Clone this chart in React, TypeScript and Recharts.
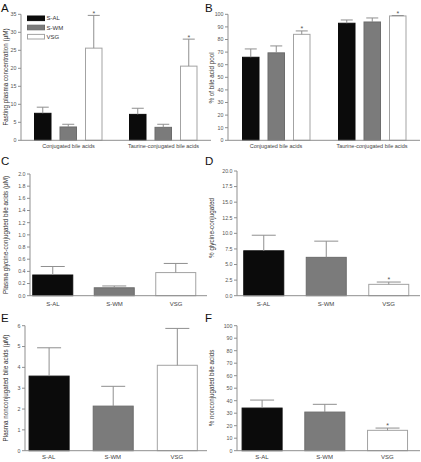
import * as React from "react";
import { BarChart, Bar, XAxis, YAxis, Legend } from "recharts";

const FONT = '"Liberation Sans", Arial, Helvetica, sans-serif';
const AXIS = "#8f8f8f";
const TICK_TXT = "#555555";
const ERR = "#8f8f8f";
const TITLE = "#333333";

const GROUPS = ["S-AL", "S-WM", "VSG"];
const GROUP_KEYS = ["sal", "swm", "vsg"];
const GROUP_FILL = ["#0b0b0b", "#7b7b7b", "#ffffff"];
const GROUP_STROKE = ["#0b0b0b", "#6c6c6c", "#a3a3a3"];

// Panel A: fasting plasma concentration (µM)
const A_CATS = ["Conjugated bile acids", "Taurine-conjugated bile acids"];
const A_SAL = [7.5, 7.2];
const A_SAL_SEM = [1.7, 1.7];
const A_SWM = [3.7, 3.6];
const A_SWM_SEM = [0.75, 0.85];
const A_VSG = [25.6, 20.6];
const A_VSG_SEM = [9.1, 7.5];
const A_VSG_SIG = [true, true];
const A_TICKS = [0, 5, 10, 15, 20, 25, 30, 35];

// Panel B: % of bile acid pool
const B_SAL = [65.9, 92.9];
const B_SAL_SEM = [6.6, 2.6];
const B_SWM = [69.4, 93.9];
const B_SWM_SEM = [5.5, 3.2];
const B_VSG = [84.1, 98.7];
const B_VSG_SEM = [2.7, 0.3];
const B_VSG_SIG = [true, true];
const B_TICKS = [0, 10, 20, 30, 40, 50, 60, 70, 80, 90, 100];

// Panel C: plasma glycine-conjugated bile acids (µM)
const C_MEAN = [0.34, 0.13, 0.38];
const C_SEM = [0.14, 0.03, 0.15];
const C_SIG = [false, false, false];
const C_TICKS = [0, 0.2, 0.4, 0.6, 0.8, 1.0, 1.2, 1.4, 1.6, 1.8, 2.0];

// Panel D: % glycine-conjugated
const D_MEAN = [7.2, 6.15, 1.82];
const D_SEM = [2.5, 2.6, 0.37];
const D_SIG = [false, false, true];
const D_TICKS = [0, 2.5, 5, 7.5, 10, 12.5, 15, 17.5, 20];

// Panel E: plasma nonconjugated bile acids (µM)
const E_MEAN = [3.58, 2.14, 4.1];
const E_SEM = [1.36, 0.95, 1.77];
const E_SIG = [false, false, false];
const E_TICKS = [0, 1, 2, 3, 4, 5, 6];

// Panel F: % nonconjugated bile acids
const F_MEAN = [34.1, 30.9, 16.3];
const F_SEM = [6.4, 6.2, 1.8];
const F_SIG = [false, false, true];
const F_TICKS = [0, 10, 20, 30, 40, 50, 60, 70, 80, 90, 100];

type Box = { x: number; y: number; w: number; h: number };

function marginsFor(div: Box, plot: Box, yW: number, xH: number) {
  return {
    left: plot.x - div.x - yW,
    top: plot.y - div.y,
    right: div.x + div.w - (plot.x + plot.w),
    bottom: div.y + div.h - (plot.y + plot.h) - xH,
  };
}

// bar + upper error bar + significance star, scaled off the bar's own height
function makeShape(
  meanKey: string,
  semKey: string,
  sigKey: string,
  cap: number,
  starDy: number,
  fill?: string,
  stroke?: string
) {
  return (props: any) => {
    const { x, y, width, height, payload } = props;
    const mean = payload[meanKey];
    const ppu = mean ? height / mean : 0;
    const top = y - payload[semKey] * ppu;
    const cx = x + width / 2;
    const f = fill ?? payload.fill;
    const s = stroke ?? payload.stroke;
    return (
      <g>
        <rect x={x + 0.5} y={y} width={width - 1} height={height} fill={f} stroke={s} strokeWidth={1} />
        <line x1={cx} x2={cx} y1={y} y2={top} stroke={ERR} strokeWidth={1} />
        <line x1={cx - cap / 2} x2={cx + cap / 2} y1={top} y2={top} stroke={ERR} strokeWidth={1} />
        {payload[sigKey] ? (
          <text x={cx} y={top + starDy} textAnchor="middle" fontSize={7} fill="#555">
            *
          </text>
        ) : null}
      </g>
    );
  };
}

const yAxisProps = (ticks: number[], w: number, fmt?: (v: number) => string) => ({
  domain: [ticks[0], ticks[ticks.length - 1]] as [number, number],
  ticks,
  interval: 0 as const,
  width: w,
  tickSize: 3,
  tickMargin: 1.5,
  axisLine: { stroke: AXIS },
  tickLine: { stroke: AXIS },
  tick: { fontSize: 5.3, fill: TICK_TXT },
  tickFormatter: fmt,
});

function renderLegend() {
  return (
    <svg width={40} height={26} style={{ display: "block" }}>
      {GROUPS.map((g, i) => (
        <g key={g}>
          <rect x={0.5} y={i * 9.2 + 1} width={17} height={4.6} fill={GROUP_FILL[i]} stroke={GROUP_STROKE[i]} />
          <text x={19.5} y={i * 9.2 + 5.4} fontSize={6} fill="#333">
            {g}
          </text>
        </g>
      ))}
    </svg>
  );
}

function GroupedPanel(p: {
  div: Box;
  plot: Box;
  yW: number;
  ticks: number[];
  series: { mean: number[]; sem: number[]; sig: boolean[] }[];
  legend?: boolean;
}) {
  const data = A_CATS.map((cat, i) => {
    const row: any = { cat };
    GROUP_KEYS.forEach((k, g) => {
      row[k] = p.series[g].mean[i];
      row[k + "Sem"] = p.series[g].sem[i];
      row[k + "Sig"] = p.series[g].sig[i];
    });
    return row;
  });
  const xH = 9;
  return (
    <div style={{ position: "absolute", left: p.div.x, top: p.div.y }}>
      <BarChart
        width={p.div.w}
        height={p.div.h}
        data={data}
        margin={marginsFor(p.div, p.plot, p.yW, xH)}
        barGap={8}
      >
        <XAxis
          dataKey="cat"
          height={xH}
          interval={0}
          tickLine={false}
          tickSize={3}
          tickMargin={1}
          axisLine={{ stroke: AXIS }}
          tick={{ fontSize: 5.5, fill: "#444" }}
        />
        <YAxis {...yAxisProps(p.ticks, p.yW)} />
        {p.legend && (
          <Legend
            layout="vertical"
            align="center"
            verticalAlign="middle"
            wrapperStyle={{ left: 27, top: 15, width: 40, height: 26 }}
            content={renderLegend}
          />
        )}
        {GROUP_KEYS.map((k, g) => (
          <Bar
            key={k}
            dataKey={k}
            name={GROUPS[g]}
            barSize={17.5}
            fill={GROUP_FILL[g]}
            isAnimationActive={false}
            shape={makeShape(k, k + "Sem", k + "Sig", 12, 0.5, GROUP_FILL[g], GROUP_STROKE[g])}
          />
        ))}
      </BarChart>
    </div>
  );
}

function SinglePanel(p: {
  div: Box;
  plot: Box;
  yW: number;
  xDomain: [number, number];
  ticks: number[];
  mean: number[];
  sem: number[];
  sig: boolean[];
  fmt?: (v: number) => string;
  labelGap: number;
}) {
  const data = GROUPS.map((name, i) => ({
    i,
    name,
    mean: p.mean[i],
    sem: p.sem[i],
    sig: p.sig[i],
    fill: GROUP_FILL[i],
    stroke: GROUP_STROKE[i],
  }));
  const xH = 10;
  return (
    <div style={{ position: "absolute", left: p.div.x, top: p.div.y }}>
      <BarChart width={p.div.w} height={p.div.h} data={data} margin={marginsFor(p.div, p.plot, p.yW, xH)}>
        <XAxis
          type="number"
          dataKey="i"
          domain={p.xDomain}
          ticks={[0, 1, 2]}
          interval={0}
          tickFormatter={(v: number) => GROUPS[v] ?? ""}
          height={xH}
          tickLine={false}
          tickSize={3}
          tickMargin={p.labelGap}
          axisLine={{ stroke: AXIS }}
          tick={{ fontSize: 6, fill: "#444" }}
        />
        <YAxis {...yAxisProps(p.ticks, p.yW, p.fmt)} />
        <Bar
          dataKey="mean"
          barSize={41}
          isAnimationActive={false}
          shape={makeShape("mean", "sem", "sig", 24, 0)}
        />
      </BarChart>
    </div>
  );
}

const LETTERS = [
  { t: "A", x: 1, y: 11.5 },
  { t: "B", x: 205, y: 11.5 },
  { t: "C", x: 1, y: 165 },
  { t: "D", x: 205, y: 165 },
  { t: "E", x: 1, y: 321.5 },
  { t: "F", x: 205, y: 321.5 },
];

const Y_TITLES = [
  { t: "Fasting plasma concentration (\u03bcM)", x: 5, y: 77 },
  { t: "% of bile acid pool", x: 211.5, y: 78 },
  { t: "Plasma glycine-conjugated bile acids (\u03bcM)", x: 5, y: 235 },
  { t: "% glycine-conjugated", x: 211.5, y: 228 },
  { t: "Plasma nonconjugated bile acids (\u03bcM)", x: 5, y: 388 },
  { t: "% nonconjugated bile acids", x: 211.5, y: 388 },
];

export default function App() {
  const fmt1 = (v: number) => v.toFixed(1);
  return (
    <div
      style={{
        position: "absolute",
        left: 0,
        top: 0,
        width: 421,
        height: 462,
        background: "#fff",
        fontFamily: FONT,
        overflow: "hidden",
      }}
    >
      <GroupedPanel
        div={{ x: 0, y: 0, w: 212, h: 150 }}
        plot={{ x: 21, y: 14.3, w: 190, h: 126 }}
        yW={16}
        ticks={A_TICKS}
        legend
        series={[
          { mean: A_SAL, sem: A_SAL_SEM, sig: [false, false] },
          { mean: A_SWM, sem: A_SWM_SEM, sig: [false, false] },
          { mean: A_VSG, sem: A_VSG_SEM, sig: A_VSG_SIG },
        ]}
      />
      <GroupedPanel
        div={{ x: 210, y: 0, w: 211, h: 150 }}
        plot={{ x: 228, y: 14.3, w: 192, h: 126 }}
        yW={18}
        ticks={B_TICKS}
        series={[
          { mean: B_SAL, sem: B_SAL_SEM, sig: [false, false] },
          { mean: B_SWM, sem: B_SWM_SEM, sig: [false, false] },
          { mean: B_VSG, sem: B_VSG_SEM, sig: B_VSG_SIG },
        ]}
      />
      <SinglePanel
        div={{ x: 0, y: 150, w: 210, h: 160 }}
        plot={{ x: 30, y: 174, w: 177, h: 121.7 }}
        yW={18}
        xDomain={[-0.374, 2.504]}
        ticks={C_TICKS}
        mean={C_MEAN}
        sem={C_SEM}
        sig={C_SIG}
        fmt={fmt1}
        labelGap={3}
      />
      <SinglePanel
        div={{ x: 210, y: 150, w: 211, h: 160 }}
        plot={{ x: 237, y: 171, w: 183, h: 124.7 }}
        yW={20}
        xDomain={[-0.424, 2.504]}
        ticks={D_TICKS}
        mean={D_MEAN}
        sem={D_SEM}
        sig={D_SIG}
        fmt={fmt1}
        labelGap={3}
      />
      <SinglePanel
        div={{ x: 0, y: 300, w: 210, h: 162 }}
        plot={{ x: 25, y: 325.7, w: 182, h: 125 }}
        yW={14}
        xDomain={[-0.369, 2.47]}
        ticks={E_TICKS}
        mean={E_MEAN}
        sem={E_SEM}
        sig={E_SIG}
        labelGap={1}
      />
      <SinglePanel
        div={{ x: 210, y: 300, w: 211, h: 162 }}
        plot={{ x: 237, y: 325.7, w: 183, h: 125 }}
        yW={18}
        xDomain={[-0.398, 2.52]}
        ticks={F_TICKS}
        mean={F_MEAN}
        sem={F_SEM}
        sig={F_SIG}
        labelGap={1}
      />
      <svg
        width={421}
        height={462}
        style={{ position: "absolute", left: 0, top: 0, pointerEvents: "none" }}
      >
        {LETTERS.map((l) => (
          <text key={l.t} x={l.x} y={l.y} fontSize={11.5} fill="#111">
            {l.t}
          </text>
        ))}
        {Y_TITLES.map((l) => (
          <text
            key={l.t}
            x={l.x}
            y={l.y}
            fontSize={6.3}
            fill={TITLE}
            textAnchor="middle"
            dominantBaseline="central"
            transform={`rotate(-90 ${l.x} ${l.y})`}
          >
            {l.t}
          </text>
        ))}
      </svg>
    </div>
  );
}
